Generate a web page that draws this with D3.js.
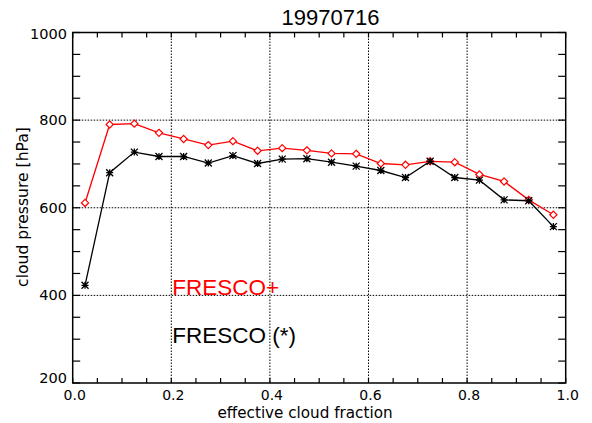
<!DOCTYPE html>
<html><head><meta charset="utf-8">
<script src="https://cdn.jsdelivr.net/npm/d3@7"></script>
<style>html,body{margin:0;padding:0;background:#fff;}</style>
</head><body>
<svg id="c" width="592" height="423"></svg>
<script>
const title = "19970716";
const xLabel = "effective cloud fraction";
const yLabel = "cloud pressure [hPa]";
const cloudFraction = [0.025,0.075,0.125,0.175,0.225,0.275,0.325,0.375,0.425,0.475,0.525,0.575,0.625,0.675,0.725,0.775,0.825,0.875,0.925,0.975];
const frescoPlus = [611,790,792,771,757,743,752,730,736,731,724,723,701,698,706,704,676,660,618,584];
const fresco = [423,680,727,717,717,702,719,701,711,712,704,695,685,669,706,669,663,618,616,557];
const xTicks = [0.0,0.2,0.4,0.6,0.8,1.0];
const yTicks = [200,400,600,800,1000];
const legendLabels = ["FRESCO+","FRESCO (*)"];

const svg = d3.select("#c");
const L=72.7, R=565.7, T=32.5, B=383;
const x = d3.scaleLinear().domain([0,1]).range([L,R]);
const y = d3.scaleLinear().domain([200,1000]).range([B,T]);
const font = "'DejaVu Sans', sans-serif";
const hfont = "'Liberation Sans', Arial, sans-serif";

// grid
const g = svg.append("g");
g.selectAll("line.gx").data(xTicks.filter(v=>v>0&&v<1)).join("line")
  .attr("x1",d=>x(d)).attr("x2",d=>x(d)).attr("y1",T).attr("y2",B)
  .attr("stroke","#000").attr("stroke-width",1).attr("stroke-dasharray","1.5,1.5");
g.selectAll("line.gy").data(yTicks.filter(v=>v>200&&v<1000)).join("line")
  .attr("y1",d=>y(d)).attr("y2",d=>y(d)).attr("x1",L).attr("x2",R)
  .attr("stroke","#000").attr("stroke-width",1).attr("stroke-dasharray","1.5,1.5");

// minor ticks
const xMinor = d3.range(0,1.0001,0.05);
const yMinor = d3.range(200,1000.1,50);
const t = svg.append("g").attr("stroke","#000").attr("stroke-width",1.2);
xMinor.forEach(v=>{
  t.append("line").attr("x1",x(v)).attr("x2",x(v)).attr("y1",B).attr("y2",B-5);
  t.append("line").attr("x1",x(v)).attr("x2",x(v)).attr("y1",T).attr("y2",T+5);
});
yMinor.forEach(v=>{
  t.append("line").attr("y1",y(v)).attr("y2",y(v)).attr("x1",L).attr("x2",L+7.5);
  t.append("line").attr("y1",y(v)).attr("y2",y(v)).attr("x1",R).attr("x2",R-7.5);
});
svg.append("rect").attr("x",L).attr("y",T).attr("width",R-L).attr("height",B-T)
  .attr("fill","none").attr("stroke","#000").attr("stroke-width",1.5);

// tick labels
svg.append("g").selectAll("text").data(xTicks).join("text")
  .attr("x",d=>x(d)+2).attr("y",400).attr("text-anchor","middle")
  .attr("font-family",font).attr("font-size",14).text(d=>d.toFixed(1));
svg.append("g").selectAll("text").data(yTicks).join("text")
  .attr("x",67).attr("y",d=>Math.min(Math.max(y(d),34),378)+5).attr("text-anchor","end")
  .attr("font-family",font).attr("font-size",14.5).text(d=>d);

// axis titles
svg.append("text").attr("x",305).attr("y",417.5).attr("text-anchor","middle")
  .attr("font-family",font).attr("font-size",15.2).text(xLabel);
svg.append("text").attr("transform","translate(27.5,207) rotate(-90)").attr("text-anchor","middle")
  .attr("font-family",font).attr("font-size",15.6).text(yLabel);
svg.append("text").attr("x",330.5).attr("y",25).attr("text-anchor","middle")
  .attr("font-family",hfont).attr("font-size",22).text(title);

// lines
const line = d3.line().x((d,i)=>x(cloudFraction[i])).y(d=>y(d));
svg.append("path").datum(frescoPlus).attr("d",line).attr("fill","none").attr("stroke","#ff0000").attr("stroke-width",1.3);
svg.append("path").datum(fresco).attr("d",line).attr("fill","none").attr("stroke","#000").attr("stroke-width",1.3);

// markers
svg.append("g").selectAll("path").data(frescoPlus).join("path")
  .attr("transform",(d,i)=>`translate(${x(cloudFraction[i])},${y(d)})`)
  .attr("d","M0,-3.6L3.6,0L0,3.6L-3.6,0Z").attr("fill","#fff").attr("stroke","#ff0000").attr("stroke-width",1.2);
svg.append("g").selectAll("path").data(fresco).join("path")
  .attr("transform",(d,i)=>`translate(${x(cloudFraction[i])},${y(d)})`)
  .attr("d","M0,-3.5L0,3.5M-3.5,-3.5L3.5,3.5M-3.5,3.5L3.5,-3.5M-3.5,0L3.5,0").attr("fill","none").attr("stroke","#000").attr("stroke-width",1.3);

// legend
svg.append("text").attr("x",172.3).attr("y",295).attr("font-family",hfont).attr("font-size",22.5)
  .attr("fill","#ff0000").text(legendLabels[0]);
svg.append("text").attr("x",172.3).attr("y",342.5).attr("font-family",hfont).attr("font-size",22.5)
  .attr("fill","#000").text(legendLabels[1]);
</script>
</body></html>
